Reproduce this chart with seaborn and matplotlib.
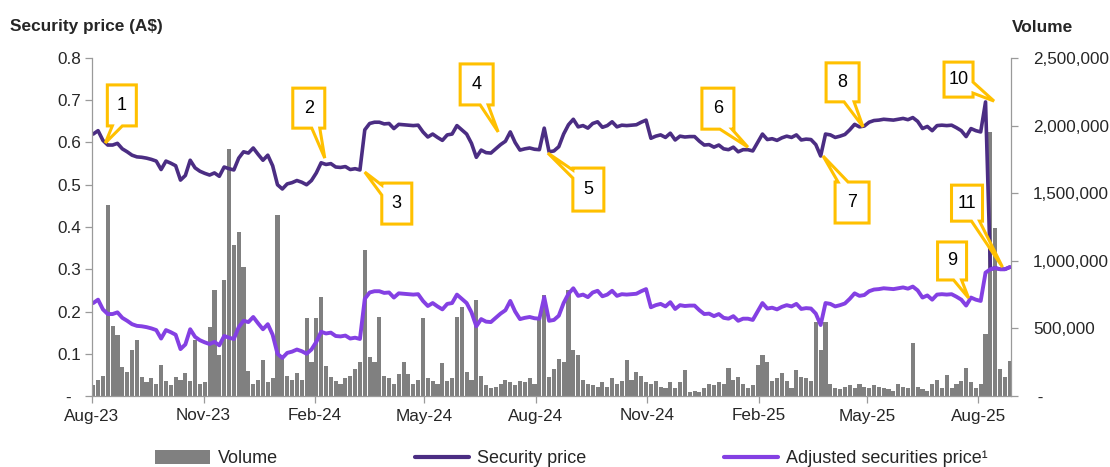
import numpy as np
import pandas as pd
import matplotlib
matplotlib.use('Agg')
import matplotlib.pyplot as plt
import matplotlib.dates as mdates
import seaborn as sns
from matplotlib.patches import Polygon, Patch
from matplotlib.lines import Line2D
from matplotlib.transforms import IdentityTransform
from matplotlib.ticker import FixedLocator, FixedFormatter

# ---------------- data ----------------
dates = pd.date_range('2023-08-02', periods=190, freq='4D')

security_price = [
    0.620, 0.628, 0.605, 0.594, 0.594, 0.598, 0.585, 0.578, 0.570, 0.566,
    0.565, 0.563, 0.560, 0.556, 0.536, 0.556, 0.551, 0.545, 0.511, 0.522,
    0.558, 0.540, 0.532, 0.527, 0.523, 0.528, 0.520, 0.542, 0.538, 0.535,
    0.563, 0.578, 0.575, 0.587, 0.572, 0.558, 0.570, 0.545, 0.500, 0.490,
    0.502, 0.505, 0.510, 0.506, 0.500, 0.510, 0.528, 0.552, 0.548, 0.550,
    0.542, 0.541, 0.543, 0.536, 0.538, 0.535, 0.630, 0.645, 0.648, 0.648,
    0.644, 0.645, 0.633, 0.643, 0.642, 0.641, 0.640, 0.641, 0.625, 0.613,
    0.620, 0.612, 0.605, 0.618, 0.620, 0.640, 0.630, 0.620, 0.598, 0.565,
    0.582, 0.576, 0.575, 0.585, 0.595, 0.603, 0.625, 0.600, 0.582, 0.585,
    0.587, 0.584, 0.583, 0.634, 0.578, 0.580, 0.590, 0.620, 0.642, 0.655,
    0.637, 0.640, 0.634, 0.645, 0.649, 0.636, 0.640, 0.649, 0.637, 0.641,
    0.640, 0.641, 0.642, 0.648, 0.653, 0.610, 0.615, 0.618, 0.612, 0.622,
    0.606, 0.615, 0.613, 0.614, 0.614, 0.603, 0.594, 0.595, 0.589, 0.594,
    0.585, 0.583, 0.589, 0.578, 0.583, 0.583, 0.580, 0.600, 0.620, 0.607,
    0.609, 0.605, 0.611, 0.615, 0.612, 0.618, 0.606, 0.608, 0.607, 0.595,
    0.568, 0.620, 0.618, 0.612, 0.615, 0.619, 0.630, 0.643, 0.637, 0.639,
    0.648, 0.652, 0.653, 0.655, 0.654, 0.653, 0.655, 0.657, 0.654, 0.659,
    0.650, 0.633, 0.638, 0.628, 0.640, 0.641, 0.640, 0.641, 0.635, 0.628,
    0.614, 0.633, 0.628, 0.625, 0.696, 0.300, 0.303, 0.300, 0.300, 0.305,
]

adjusted_price = [
    0.220, 0.228, 0.205, 0.194, 0.194, 0.198, 0.185, 0.178, 0.170, 0.166,
    0.165, 0.163, 0.160, 0.156, 0.136, 0.156, 0.151, 0.145, 0.111, 0.122,
    0.158, 0.140, 0.132, 0.127, 0.123, 0.128, 0.120, 0.142, 0.138, 0.135,
    0.163, 0.178, 0.175, 0.187, 0.172, 0.158, 0.170, 0.145, 0.100, 0.090,
    0.102, 0.105, 0.110, 0.106, 0.100, 0.110, 0.128, 0.152, 0.148, 0.150,
    0.142, 0.141, 0.143, 0.136, 0.138, 0.135, 0.230, 0.245, 0.248, 0.248,
    0.244, 0.245, 0.233, 0.243, 0.242, 0.241, 0.240, 0.241, 0.225, 0.213,
    0.220, 0.212, 0.205, 0.218, 0.220, 0.240, 0.230, 0.220, 0.198, 0.165,
    0.182, 0.176, 0.175, 0.185, 0.195, 0.203, 0.225, 0.200, 0.182, 0.185,
    0.187, 0.184, 0.183, 0.234, 0.178, 0.180, 0.190, 0.220, 0.242, 0.255,
    0.237, 0.240, 0.234, 0.245, 0.249, 0.236, 0.240, 0.249, 0.237, 0.241,
    0.240, 0.241, 0.242, 0.248, 0.253, 0.210, 0.215, 0.218, 0.212, 0.222,
    0.206, 0.215, 0.213, 0.214, 0.214, 0.203, 0.194, 0.195, 0.189, 0.194,
    0.185, 0.183, 0.189, 0.178, 0.183, 0.183, 0.180, 0.200, 0.220, 0.207,
    0.209, 0.205, 0.211, 0.215, 0.212, 0.218, 0.206, 0.208, 0.207, 0.195,
    0.168, 0.220, 0.218, 0.212, 0.215, 0.219, 0.230, 0.243, 0.237, 0.239,
    0.248, 0.252, 0.253, 0.255, 0.254, 0.253, 0.255, 0.257, 0.254, 0.259,
    0.250, 0.233, 0.238, 0.228, 0.240, 0.241, 0.240, 0.241, 0.235, 0.228,
    0.214, 0.233, 0.228, 0.225, 0.292, 0.300, 0.303, 0.300, 0.300, 0.305,
]

# volume in thousands of shares
volume_k = [
    80, 120, 150, 1410, 520, 450, 215, 180, 340, 415,
    140, 100, 130, 90, 230, 110, 80, 140, 120, 170,
    110, 415, 90, 100, 510, 785, 300, 860, 1830, 1120,
    1210, 955, 185, 90, 120, 265, 100, 130, 1340, 300,
    150, 120, 170, 120, 577, 250, 577, 732, 220, 140,
    110, 90, 130, 150, 200, 250, 1080, 290, 250, 584,
    150, 130, 90, 160, 250, 160, 90, 120, 577, 130,
    110, 90, 244, 110, 130, 585, 658, 180, 120, 710,
    150, 80, 60, 70, 90, 120, 100, 80, 110, 100,
    130, 90, 562, 747, 140, 200, 270, 250, 784, 340,
    300, 120, 90, 80, 70, 100, 70, 130, 90, 110,
    266, 120, 180, 150, 100, 90, 110, 70, 60, 100,
    60, 100, 190, 30, 40, 30, 60, 90, 80, 100,
    90, 207, 120, 140, 90, 60, 80, 230, 300, 250,
    110, 130, 170, 110, 60, 190, 140, 130, 110, 547,
    340, 547, 90, 60, 50, 70, 80, 60, 90, 70,
    60, 80, 70, 60, 50, 40, 90, 70, 60, 392,
    70, 50, 40, 90, 120, 60, 155, 60, 90, 110,
    207, 100, 60, 90, 460, 1950, 1240, 200, 140, 260,
]

x_tick_dates = pd.date_range('2023-08-01', '2025-08-01', freq='3MS')
price_ticks = [0.0, 0.1, 0.2, 0.3, 0.4, 0.5, 0.6, 0.7, 0.8]
price_labels = ['-  ', '0.1', '0.2', '0.3', '0.4', '0.5', '0.6', '0.7', '0.8']
volume_ticks_k = [0, 500, 1000, 1500, 2000, 2500]
volume_labels = [' -', '500,000', '1,000,000', '1,500,000', '2,000,000', '2,500,000']

# callouts: label, tip date, tip value
callout_labels = ['1', '2', '3', '4', '5', '6', '7', '8', '9', '10', '11']
callout_dates = ['2023-08-12', '2024-02-09', '2024-03-13', '2024-07-01', '2024-08-11',
                 '2025-01-23', '2025-03-26', '2025-04-28', '2025-07-24', '2025-08-14',
                 '2025-08-21']
callout_values = [0.599, 0.563, 0.530, 0.625, 0.575, 0.589, 0.568, 0.637, 0.232, 0.698, 0.305]

# ---------------- style ----------------
sns.set_style('white')
plt.rcParams['font.family'] = ['Liberation Sans', 'DejaVu Sans']

DARK = '#4B2D83'
BRIGHT = '#8440E3'
GREY = '#808080'
SPINE = '#9a9a9a'
GOLD = '#FFC000'
TICK_FS = 12.3

W, H = 1110, 467
fig = plt.figure(figsize=(W / 100, H / 100), dpi=100)
ax = fig.add_axes([92 / W, 1 - 396 / H, (1011 - 92) / W, (396 - 58) / H])
ax2 = ax.twinx()

df = pd.DataFrame({'date': dates, 'price': security_price,
                   'adjusted': adjusted_price, 'volume_k': volume_k})

# volume bars on the right axis
ax2.bar(df['date'], df['volume_k'], width=3.4, color=GREY, linewidth=0)
ax2.set_ylim(0, 2500)

# price lines on the left axis
sns.lineplot(data=df, x='date', y='price', ax=ax, color=DARK, linewidth=2.6)
sns.lineplot(data=df, x='date', y='adjusted', ax=ax, color=BRIGHT, linewidth=2.8)
ax.set_ylim(0, 0.8)
ax.set_xlim(pd.Timestamp('2023-08-01'), pd.Timestamp('2025-08-28'))

ax.set_zorder(ax2.get_zorder() + 1)
ax.patch.set_visible(False)

ax.set_xlabel('')
ax.set_ylabel('')
ax2.set_ylabel('')

ax.xaxis.set_major_locator(FixedLocator(mdates.date2num(x_tick_dates)))
ax.xaxis.set_major_formatter(mdates.DateFormatter('%b-%y'))
ax.yaxis.set_major_locator(FixedLocator(price_ticks))
ax.yaxis.set_major_formatter(FixedFormatter(price_labels))
ax2.yaxis.set_major_locator(FixedLocator(volume_ticks_k))
ax2.yaxis.set_major_formatter(FixedFormatter(volume_labels))

for a in (ax, ax2):
    a.spines['top'].set_visible(False)
    for s in ('left', 'right', 'bottom'):
        a.spines[s].set_color(SPINE)
        a.spines[s].set_linewidth(0.9)
ax.spines['right'].set_visible(False)
ax2.spines['left'].set_visible(False)
ax2.spines['bottom'].set_visible(False)

ax.tick_params(axis='y', direction='out', length=5, width=0.9, color=SPINE,
               labelsize=TICK_FS, pad=3, left=True)
ax.tick_params(axis='x', direction='out', length=5, width=0.9, color=SPINE,
               labelsize=TICK_FS, pad=4, bottom=True)
ax2.tick_params(axis='y', direction='out', length=5, width=0.9, color=SPINE,
                labelsize=TICK_FS, pad=11, right=True)

# axis titles
fig.text(10 / W, 1 - 26 / H, 'Security price (A$)', fontsize=12.4, fontweight='bold',
         ha='left', va='center')
fig.text(1012 / W, 1 - 27 / H, 'Volume', fontsize=12.4, fontweight='bold',
         ha='left', va='center')

# legend
handles = [Patch(facecolor=GREY, edgecolor='none'),
           Line2D([0], [0], color=DARK, lw=3),
           Line2D([0], [0], color=BRIGHT, lw=3)]
labels = ['Volume', 'Security price', 'Adjusted securities price\u00b9']
fig.legend(handles, labels, loc='center', bbox_to_anchor=(0.515, 0.018), ncol=3,
           frameon=False, fontsize=13, handlelength=3.0, handleheight=0.8,
           handletextpad=0.45, columnspacing=7.6)

# callouts (box geometry in pixels relative to the tip)
callout_geom = [
    (2, -58, 29, 41, 'bottom', 5, 15),
    (-32, -70, 32, 40, 'bottom', 19, 27),
    (17, 11, 30, 41, 'left', 2, 12),
    (-38, -68, 33, 41, 'bottom', 20, 28),
    (25, 15, 31, 43, 'left', 2, 10),
    (-46, -59, 32, 41, 'bottom', 18, 30),
    (12, 26, 34, 41, 'top', 3, 13),
    (-37, -64, 33, 39, 'bottom', 18, 28),
    (-31, -56, 29, 38, 'bottom', 16, 24),
    (-50, -39, 29, 35, 'right', 20, 31),
    (-51, -82, 31, 36, 'bottom', 20, 28),
]

for lab, d, v, g in zip(callout_labels, callout_dates, callout_values, callout_geom):
    x0, y0, w, h, edge, b0, b1 = g
    tx, ty = ax.transData.transform((mdates.date2num(pd.Timestamp(d)), v))
    TL, TR, BR, BL = (x0, y0), (x0 + w, y0), (x0 + w, y0 + h), (x0, y0 + h)
    tip = (0, 0)
    if edge == 'bottom':
        pts = [TL, TR, BR, (x0 + b1, y0 + h), tip, (x0 + b0, y0 + h), BL]
    elif edge == 'top':
        pts = [TL, (x0 + b0, y0), tip, (x0 + b1, y0), TR, BR, BL]
    elif edge == 'right':
        pts = [TL, TR, (x0 + w, y0 + b0), tip, (x0 + w, y0 + b1), BR, BL]
    else:
        pts = [TL, TR, BR, BL, (x0, y0 + b1), tip, (x0, y0 + b0)]
    disp = [(tx + px, ty - py) for px, py in pts]
    poly = Polygon(disp, closed=True, facecolor='white', edgecolor=GOLD,
                   linewidth=2.2, transform=IdentityTransform(), zorder=20,
                   joinstyle='miter')
    fig.add_artist(poly)
    fig.text(tx + x0 + w / 2, ty - (y0 + h / 2), lab, transform=IdentityTransform(),
             ha='center', va='center', fontsize=13, color='black', zorder=21)

fig.savefig('out.png', dpi=100)
